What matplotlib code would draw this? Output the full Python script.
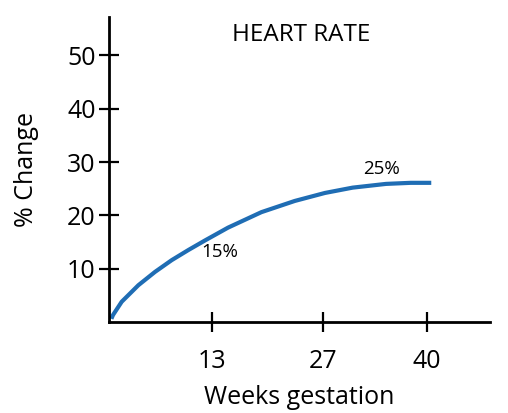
import matplotlib.pyplot as plt

# values
weeks = [0.3, 0.5, 1.6, 3.7, 5.8, 7.9, 10.0, 12.1, 15.0, 19.2, 23.4, 27.2, 30.7, 34.9, 38.0, 40.6]
change = [0.6, 1.3, 3.8, 6.9, 9.4, 11.6, 13.5, 15.3, 17.7, 20.6, 22.7, 24.2, 25.2, 25.9, 26.1, 26.1]
x_ticks = [13, 27, 40]
y_ticks = [10, 20, 30, 40, 50]

plt.rcParams['font.family'] = ['Open Sans', 'DejaVu Sans']

fig = plt.figure(figsize=(5.08, 4.13), dpi=100)
ax = fig.add_axes([109 / 508, 1 - 322 / 413, 381 / 508, 305 / 413])

ax.plot(weeks, change, color="#1f6db4", linewidth=3,
        solid_capstyle="butt", solid_joinstyle="round")

ax.set_xlim(0, 48)
ax.set_ylim(0, 57.2)
ax.set_xticks(x_ticks)
ax.set_yticks(y_ticks)

for side in ["top", "right"]:
    ax.spines[side].set_visible(False)
for side in ["left", "bottom"]:
    ax.spines[side].set_linewidth(2)

ax.tick_params(direction="inout", length=15, width=1.6, labelsize=18)
ax.tick_params(axis="x", pad=12)
ax.tick_params(axis="y", pad=2)

ax.set_xlabel("Weeks gestation", fontsize=18, labelpad=8)
ax.set_ylabel("% Change", fontsize=18, labelpad=20)

ax.text(0.504, 0.94, "HEART RATE", transform=ax.transAxes, ha="center",
        va="center", fontsize=17.5)
ax.text(14, 13.2, "15%", ha="center", va="center", fontsize=13.5)
ax.text(34.3, 28.6, "25%", ha="center", va="center", fontsize=13.5)

fig.savefig("out.png", dpi=100)
